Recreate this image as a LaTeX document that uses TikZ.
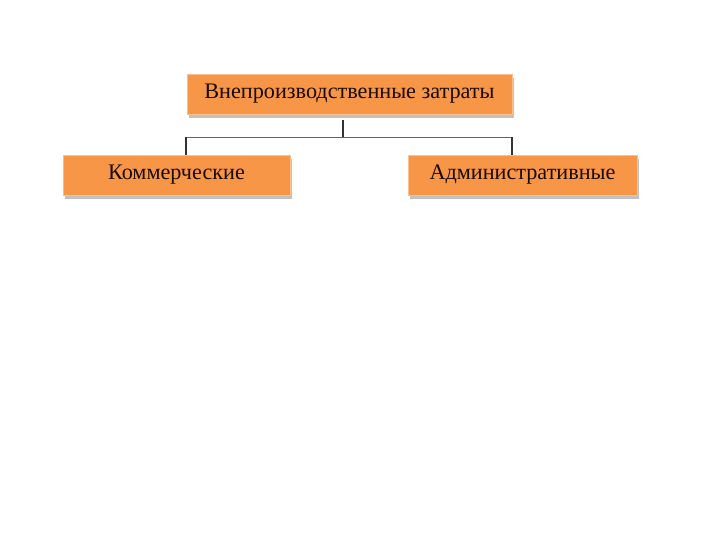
\documentclass[tikz,border=0pt]{standalone}
\usepackage{fontspec}
\setmainfont{Liberation Serif}
\usetikzlibrary{shadows}
\definecolor{boxorange}{HTML}{F79646}
\definecolor{boxtext}{HTML}{1A0A05}

\begin{document}
\begin{tikzpicture}[x=1pt,y=-1pt,
    costbox/.style={fill=boxorange, draw=boxorange!60!white, line width=0.8pt,
        minimum height=40pt, inner sep=0pt, text=boxtext, font=\fontsize{22.2}{26}\selectfont,
        drop shadow={shadow xshift=1.5pt, shadow yshift=-4pt, fill=gray!60, opacity=0.8}},
    bus/.style={draw=gray!80!black, line width=0.8pt},
    drop/.style={draw=black!80, line width=1.2pt}]
    \useasboundingbox (0,0) rectangle (720,540);

    % boxes
    \node[costbox, minimum width=325pt] (total) at (349.5,94) {Внепроизводственные затраты};
    \node[costbox, minimum width=227pt] (comm) at (176.5,175) {Коммерческие};
    \node[costbox, minimum width=229pt] (admin) at (522.5,175) {Административные};

    % connectors
    \coordinate (busL) at (186,137);
    \coordinate (busM) at (343,137);
    \coordinate (busR) at (512,137);
    \draw[bus] (busL) -- (busR);
    \draw[drop, shorten <=6pt] (total.south -| busM) -- (busM);
    \draw[drop] (busL) -- (busL |- comm.north);
    \draw[drop] (busR) -- (busR |- admin.north);
\end{tikzpicture}
\end{document}
